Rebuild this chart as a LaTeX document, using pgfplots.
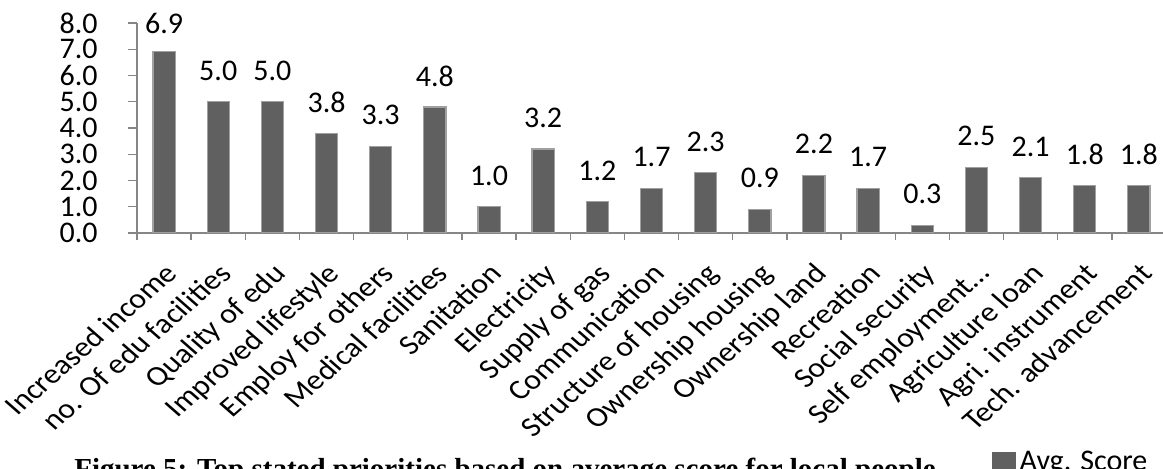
\documentclass[border=0pt]{standalone}
\usepackage{fontspec}
\setmainfont{Carlito}
\newfontfamily\capfont{Liberation Serif}
\usepackage{pgfplots}
\pgfplotsset{compat=1.18}
\usepackage{pgfplotstable}

\definecolor{barfill}{RGB}{96,96,96}
\definecolor{baredge}{RGB}{160,160,160}
\definecolor{axisgray}{RGB}{134,134,134}

% x = category index, y = avg. score, off = extra shift of the value label (pt)
\pgfplotstableread{
x  y   off
0  6.9 -1.5
1  5.0 0
2  5.0 0
3  3.8 0
4  3.3 0
5  4.8 0
6  1.0 0
7  3.2 0
8  1.2 0
9  1.7 0
10 2.3 0
11 0.9 0
12 2.2 0
13 1.7 0
14 0.3 0
15 2.5 0
16 2.1 0
17 1.8 0
18 1.8 0
}\scores

\begin{document}
\begin{tikzpicture}
\useasboundingbox (0,0) rectangle (581.5pt,234.5pt);
\begin{axis}[
    at={(68.5pt,118pt)}, anchor=south west,
    scale only axis,
    width=514.5pt, height=105pt,
    xmin=-0.5, xmax=18.5,
    ymin=0, ymax=8,
    axis x line*=bottom,
    axis y line*=left,
    axis line style={axisgray, line width=0.7pt},
    tick align=outside,
    major tick length=4.5pt,
    minor tick length=3.5pt,
    tick style={axisgray, line width=0.7pt},
    %
    xtick={0,...,18},
    major x tick style={draw=none},
    minor xtick={-0.5,0.5,...,18.5},
    xticklabels={Increased income,no. Of edu facilities,Quality of edu,Improved lifestyle,Employ for others,Medical facilities,Sanitation,Electricity,Supply of gas,Communication,Structure of housing,Ownership housing,Ownership land,Recreation,Social security,Self employment…,Agriculture loan,Agri. instrument,Tech. advancement},
    xticklabel style={xshift=-0.5pt, yshift=-9.5pt, xscale=1.14, rotate=45,
        anchor=north east, inner sep=0pt, font=\fontsize{14}{16}\selectfont},
    %
    ytick={0,...,8},
    yticklabel style={anchor=east, inner sep=0pt, xshift=-15pt,
        font=\fontsize{15}{17}\selectfont,
        /pgf/number format/.cd, fixed, fixed zerofill, precision=1},
    /pgf/number format/assume math mode=true,
    %
    ybar, bar width=0.41,
    nodes near coords={\pgfmathprintnumber[fixed,fixed zerofill,precision=1]{\pgfplotspointmeta}},
    visualization depends on={\thisrow{off} \as \labeloff},
    every node near coord/.append style={anchor=center, yshift=15.5pt+\labeloff pt,
        font=\fontsize{15}{17}\selectfont, black},
    %
    legend style={draw=none, fill=none, at={(axis description cs:0.831,-1.09)},
        anchor=west, inner sep=0pt, font=\fontsize{15}{17}\selectfont},
    legend image code/.code={\fill[barfill] (0pt,-4.8pt) rectangle (11pt,4.8pt);},
]
    \addplot[fill=barfill, draw=baredge, line width=0.6pt] table[x=x, y=y] {\scores};
    \addlegendentry{Avg. Score}
\end{axis}
\node[anchor=base, font=\capfont\bfseries\fontsize{14.5}{16}\selectfont]
    at (252.5pt,-5pt) {Figure 5: Top stated priorities based on average score for local people};
\end{tikzpicture}
\end{document}
